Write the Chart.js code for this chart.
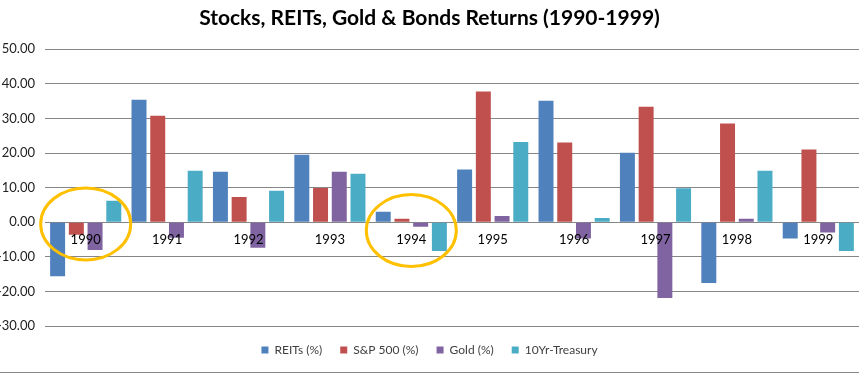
<!DOCTYPE html>
<html>
<head>
<meta charset="utf-8">
<script src="https://cdn.jsdelivr.net/npm/chart.js@4/dist/chart.umd.min.js"></script>
<style>
  html, body { margin: 0; padding: 0; background: #fff; }
  #wrap { width: 859px; height: 372px; border-bottom: 1px solid #868686; }
</style>
</head>
<body>
<div id="wrap"><canvas id="chart"></canvas></div>
<script>
// values
const years = ['1990', '1991', '1992', '1993', '1994', '1995', '1996', '1997', '1998', '1999'];
const reits = [-15.6, 35.4, 14.6, 19.5, 3.0, 15.2, 35.1, 20.1, -17.6, -4.7];
const sp500 = [-3.6, 30.8, 7.3, 9.9, 1.0, 37.8, 23.0, 33.4, 28.5, 21.0];
const gold = [-8.0, -4.5, -7.4, 14.6, -1.3, 1.8, -4.7, -21.9, 1.0, -3.0];
const treasury = [6.2, 14.9, 9.1, 14.0, -8.3, 23.2, 1.2, 9.8, 14.9, -8.3];

const yMin = -30;
const yMax = 50;
const yStep = 10;

// the two hand drawn highlight rings, anchored on a category and a value
const rings = [
    {category: 0, value: -0.5},
    {category: 4, value: -2.4}
];

const FONT = 'Lato, Carlito, Calibri, sans-serif';

let ringPlugin = {
    id: 'rings',
    afterDatasetsDraw(chart) {
        let ctx = chart.ctx;
        let x = chart.scales.x, y = chart.scales.y;
        ctx.save();
        ctx.strokeStyle = '#FFC000';
        ctx.lineWidth = 3;
        rings.forEach(r => {
            ctx.beginPath();
            ctx.ellipse(x.getPixelForValue(r.category), y.getPixelForValue(r.value), 45, 36, 0, 0, Math.PI * 2);
            ctx.stroke();
        });
        ctx.restore();
    }
};

function series(label, data, color) {
    return {label: label, data: data, backgroundColor: color, borderWidth: 0,
            categoryPercentage: 0.92, barPercentage: 0.8};
}

new Chart(document.getElementById('chart'), {
    type: 'bar',
    data: {
        labels: years,
        datasets: [
            series('REITs (%)', reits, '#4F81BD'),
            series('S&P 500 (%)', sp500, '#C0504D'),
            series('Gold (%)', gold, '#8064A2'),
            series('10Yr-Treasury', treasury, '#4BACC6')
        ]
    },
    options: {
        responsive: true,
        maintainAspectRatio: false,
        animation: false,
        layout: {padding: {top: 0, right: 0, bottom: 6, left: 0}},
        plugins: {
            title: {
                display: true,
                text: 'Stocks, REITs, Gold & Bonds Returns (1990-1999)',
                color: '#000',
                font: {family: FONT, size: 21, weight: 'bold'},
                padding: {top: 6, bottom: 18}
            },
            legend: {
                position: 'bottom',
                labels: {
                    boxWidth: 7,
                    boxHeight: 7,
                    padding: 18,
                    color: '#404040',
                    font: {family: FONT, size: 12}
                }
            },
            tooltip: {enabled: false}
        },
        scales: {
            x: {
                position: {y: 0},
                grid: {display: false, drawTicks: false},
                border: {display: false},
                // year labels sit on top of the bars, like the original
                ticks: {z: 1, color: '#000', padding: 10, font: {family: FONT, size: 13}}
            },
            y: {
                min: yMin,
                max: yMax,
                grid: {color: '#868686', drawTicks: false},
                border: {display: false},
                ticks: {
                    stepSize: yStep,
                    padding: 10,
                    color: '#222',
                    font: {family: FONT, size: 13},
                    callback: v => v.toFixed(2)
                },
                afterFit(scale) { scale.width = 45; }
            }
        }
    },
    plugins: [ringPlugin]
});
</script>
</body>
</html>
